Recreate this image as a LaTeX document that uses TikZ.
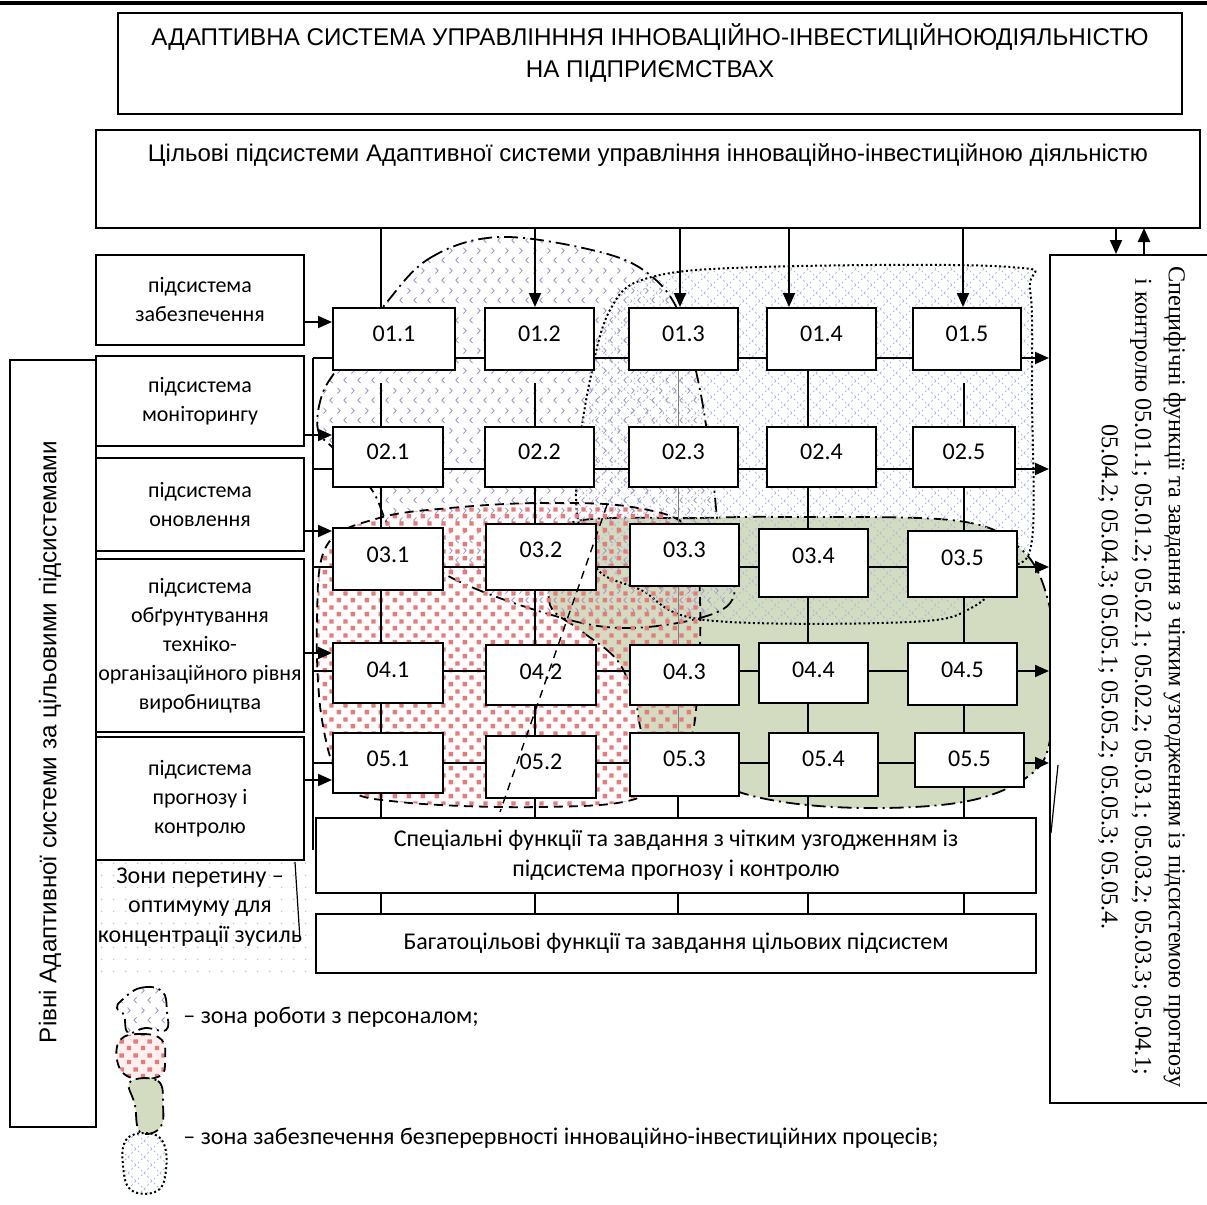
\documentclass[tikz,border=0pt]{standalone}
\usepackage{fontspec}
\setmainfont{Carlito}
\newfontfamily\arialf{Liberation Sans}
\newfontfamily\tnrf{Liberation Serif}
\usetikzlibrary{arrows.meta,patterns}
\definecolor{zgreen}{RGB}{211,220,192}
\definecolor{lavc}{RGB}{160,150,205}
\definecolor{hatchc}{RGB}{175,188,220}
\definecolor{redc}{RGB}{232,122,122}
\pgfdeclarepatternformonly{chev}{\pgfqpoint{0pt}{0pt}}{\pgfqpoint{7pt}{10pt}}{\pgfqpoint{7pt}{10pt}}{%
 \pgfsetlinewidth{0.45pt}%
 \pgfpathmoveto{\pgfqpoint{0.8pt}{9pt}}\pgfpathlineto{\pgfqpoint{2.2pt}{7.5pt}}\pgfpathlineto{\pgfqpoint{0.8pt}{6pt}}%
 \pgfpathmoveto{\pgfqpoint{5.6pt}{4pt}}\pgfpathlineto{\pgfqpoint{4.2pt}{2.5pt}}\pgfpathlineto{\pgfqpoint{5.6pt}{1pt}}%
 \pgfusepath{stroke}}
\pgfdeclarepatternformonly{redsq}{\pgfqpoint{0pt}{0pt}}{\pgfqpoint{7pt}{7pt}}{\pgfqpoint{7pt}{7pt}}{%
 \pgfpathrectangle{\pgfqpoint{0.4pt}{0.4pt}}{\pgfqpoint{2.3pt}{2.3pt}}%
 \pgfpathrectangle{\pgfqpoint{3.9pt}{3.9pt}}{\pgfqpoint{2.3pt}{2.3pt}}%
 \pgfusepath{fill}}
\pgfdeclarepatternformonly{bhatch}{\pgfqpoint{-0.5pt}{-0.5pt}}{\pgfqpoint{8.5pt}{8.5pt}}{\pgfqpoint{8pt}{8pt}}{%
 \pgfsetlinewidth{0.45pt}%
 \pgfpathmoveto{\pgfqpoint{0pt}{0pt}}\pgfpathlineto{\pgfqpoint{8pt}{8pt}}%
 \pgfpathmoveto{\pgfqpoint{0pt}{8pt}}\pgfpathlineto{\pgfqpoint{8pt}{0pt}}%
 \pgfusepath{stroke}}
\pgfdeclarepatternformonly{gdots}{\pgfqpoint{0pt}{0pt}}{\pgfqpoint{6pt}{6pt}}{\pgfqpoint{6pt}{6pt}}{%
 \pgfpathcircle{\pgfqpoint{3pt}{3pt}}{0.45pt}\pgfusepath{fill}}
\newcommand\gbox[7]{%
 \pgfmathsetmacro\gbw{(#4-#2)*0.5}%
 \pgfmathsetmacro\gbh{(#5-#3)*0.5}%
 \pgfmathsetmacro\gbx{(#2+#4)/2}%
 \pgfmathsetmacro\gby{(#3+#5)/2}%
 \node[bx, minimum width=\gbw pt, minimum height=\gbh pt] (#1) at (\gbx,\gby) {};
 \node[gl] (#1t) at (\gbx,#6) {#7};}
\begin{document}
\begin{tikzpicture}[x=0.5pt,y=-0.5pt,
 bx/.style={draw, line width=1pt, fill=white, inner sep=0pt},
 gl/.style={font=\fontsize{12}{14}\selectfont, inner sep=0pt},
 arr/.style={line width=1pt, -{Triangle[length=7pt,width=6pt]}},
 ln/.style={line width=1pt},
 sub/.style={bx, minimum width=104pt, align=center, font=\fontsize{11}{14.5}\selectfont},
 ddot/.style={line width=0.9pt, dash pattern=on 7pt off 2.5pt on 1pt off 2.5pt},
 dsh/.style={line width=0.9pt, dash pattern=on 4.5pt off 3pt},
 dtt/.style={line width=1pt, dash pattern=on 1pt off 1.3pt},
 txt/.style={font=\fontsize{12}{14.75}\selectfont, inner sep=0pt},
]
\useasboundingbox (0,0) rectangle (1207,1205);
\fill[white] (0,0) rectangle (1207,1205);
\draw[line width=2pt] (0,3) -- (1207,3);

% header boxes
\node[bx, minimum width=532pt, minimum height=50.5pt] (title) at (650,63.5) {};
\node[font=\arialf\fontsize{12.1}{16}\selectfont, align=center, inner sep=0pt] (titlet) at (650,53)
 {АДАПТИВНА СИСТЕМА УПРАВЛІНННЯ ІННОВАЦІЙНО-ІНВЕСТИЦІЙНОЮДІЯЛЬНІСТЮ\\НА ПІДПРИЄМСТВАХ};
\node[bx, minimum width=552pt, minimum height=49pt] (tgt) at (648,179) {};
\node[font=\arialf\fontsize{12}{14}\selectfont, inner sep=0pt] (tgtt) at (648,155)
 {Цільові підсистеми Адаптивної системи управління інноваційно-інвестиційною діяльністю};

% zones
\draw[ddot, fill=zgreen] plot[smooth cycle, tension=0.6] coordinates {(573,522) (700,518) (788,517) (959,521) (1022,550) (1048,600) (1053,660) (1050,740) (1030,775) (973,800) (885,808) (790,803) (720,785) (650,745) (635,700) (617,660) (580,630) (550,605) (555,560)};
\draw[dtt, pattern=bhatch, pattern color=hatchc] plot[smooth cycle, tension=0.6] coordinates {(648,278) (760,267) (1010,267) (1030,290) (1032,400) (1032,540) (1010,570) (973,607) (910,622) (705,620) (641,590) (598,570) (578,520) (578,460) (590,380) (610,310)};
\draw[ddot, pattern=chev, pattern color=lavc] plot[smooth cycle, tension=0.6] coordinates {(383,307) (430,258) (500,237) (600,252) (650,275) (680,315) (700,390) (712,470) (720,540) (734,595) (700,618) (620,628) (545,613) (452,578) (395,535) (372,490) (335,450) (318,430) (322,395) (340,365)};
\draw[dsh, pattern=redsq, pattern color=redc] plot[smooth cycle, tension=0.6] coordinates {(379,518) (450,508) (540,503) (632,507) (690,530) (700,600) (697,700) (685,750) (641,797) (540,807) (400,802) (345,785) (322,720) (317,620) (327,545)};

% left boxes
\node[bx, minimum width=43pt, minimum height=383.5pt] (lev) at (53,743.5) {};
\node[rotate=90, font=\arialf\fontsize{12.1}{14}\selectfont, inner sep=0pt] (levt) at (50,742)
 {Рівні Адаптивної системи за цільовими підсистемами};
\node[sub, minimum height=45pt] (s1) at (200,300) {підсистема\\забезпечення};
\node[sub, minimum height=45pt] (s2) at (200,401) {підсистема\\моніторингу};
\node[sub, minimum height=46.5pt] (s3) at (200,504.5) {підсистема\\оновлення};
\node[sub, minimum height=86.5pt] (s4) at (200,645.5) {підсистема\\обґрунтування\\техніко-\\організаційного рівня\\виробництва};
\node[sub, minimum height=61.5pt] (s5) at (200,798.5) {підсистема\\прогнозу і\\контролю};

% zones of intersection note
\fill[pattern=gdots, pattern color=gray!45] (98,862) rectangle (315,972);
\node[txt, align=center] (zn) at (200,907) {Зони перетину –\\оптимуму для\\концентрації зусиль};
\draw[line width=0.6pt] (295,862) -- (300,940);

% right box
\node[bx, minimum width=82.5pt, minimum height=424pt] (rbox) at (1132.5,679) {};
\node[rotate=-90, align=center, font=\tnrf\fontsize{12.1}{16.75}\selectfont, inner sep=0pt] (rboxt) at (1142,677)
 {Специфічні функції та завдання з чітким узгодженням із підсистемою прогнозу\\
  і контролю 05.01.1; 05.01.2; 05.02.1; 05.02.2; 05.03.1; 05.03.2; 05.03.3; 05.04.1;\\
  05.04.2; 05.04.3; 05.05.1; 05.05.2; 05.05.3; 05.05.4.};
\draw[line width=0.6pt] (1058,765) -- (1051,833);

% grid lines
\coordinate (bus1) at (313,358);
\coordinate (bus5) at (313,850);
\draw[ln] (bus1) -- (bus5);
\foreach \i/\y in {1/358,2/469,3/567,4/671,5/763}{
 \coordinate (r\i) at (313,\y);
 \draw[arr] (r\i) -- (r\i -| rbox.west);
}
\draw[ln] (381,383) -- (381,914);
\draw[ln] (535,383) -- (535,914);
\draw[line width=0.5pt, gray] (678,370) -- (678,796);
\draw[ln] (678,796) -- (678,914);
\draw[ln] (808,370) -- (808,914);
\draw[ln] (964,383) -- (964,914);

% grid boxes
\gbox{b11}{333}{308}{455}{370}{334}{01.1}
\gbox{b12}{485}{308}{594}{370}{334}{01.2}
\gbox{b13}{629}{308}{738}{370}{334}{01.3}
\gbox{b14}{767}{308}{876}{370}{334}{01.4}
\gbox{b15}{913}{308}{1021}{370}{334}{01.5}
\gbox{b21}{333}{427}{443}{487}{452}{02.1}
\gbox{b22}{485}{427}{594}{487}{452}{02.2}
\gbox{b23}{629}{427}{738}{487}{452}{02.3}
\gbox{b24}{767}{427}{876}{487}{452}{02.4}
\gbox{b25}{913}{427}{1015}{487}{452}{02.5}
\gbox{b31}{333}{528}{443}{590}{555}{03.1}
\gbox{b32}{486}{524}{596}{590}{550}{03.2}
\gbox{b33}{630}{524}{739}{586}{550}{03.3}
\gbox{b34}{759}{529}{868}{597}{556}{03.4}
\gbox{b35}{908}{531}{1017}{597}{558}{03.5}
\gbox{b41}{333}{643}{443}{703}{670}{04.1}
\gbox{b42}{486}{645}{596}{705}{672}{04.2}
\gbox{b43}{630}{645}{739}{705}{672}{04.3}
\gbox{b44}{759}{643}{868}{703}{670}{04.4}
\gbox{b45}{908}{643}{1017}{705}{670}{04.5}
\gbox{b51}{333}{733}{443}{793}{759}{05.1}
\gbox{b52}{486}{736}{596}{798}{762}{05.2}
\gbox{b53}{630}{733}{739}{796}{759}{05.3}
\gbox{b54}{769}{733}{878}{796}{759}{05.4}
\gbox{b55}{915}{733}{1024}{787}{759}{05.5}

% top connectors
\coordinate (t1) at (381,228);
\coordinate (t2) at (535,228);
\coordinate (t3) at (680,228);
\coordinate (t4) at (789,228);
\coordinate (t5) at (963,228);
\draw[ln] (t1) -- (t1 |- b11.north);
\draw[arr] (t2) -- (t2 |- b12.north);
\draw[arr] (t3) -- (t3 |- b13.north);
\draw[arr] (t4) -- (t4 |- b14.north);
\draw[arr] (t5) -- (t5 |- b15.north);
\coordinate (d1) at (1116,228);
\coordinate (u1) at (1144,228);
\draw[arr] (d1) -- (d1 |- rbox.north);
\draw[arr] (u1 |- rbox.north) -- (u1);

% inputs from subsystems
\coordinate (i1) at (304,322);
\coordinate (i2) at (304,435);
\coordinate (i3) at (304,531);
\coordinate (i4) at (304,653);
\coordinate (i5) at (304,780);
\draw[arr] (i1) -- (i1 -| b11.west);
\draw[arr] (i2) -- (i2 -| b21.west);
\draw[arr] (i3) -- (i3 -| b31.west);
\draw[arr] (i4) -- (i4 -| b41.west);
\draw[arr] (i5) -- (i5 -| b51.west);

% bottom boxes
\node[bx, minimum width=360pt, minimum height=37.5pt, align=center, font=\fontsize{12}{15}\selectfont] (spec) at (676,855.5)
 {Спеціальні функції та завдання з чітким узгодженням із\\підсистема прогнозу і контролю};
\node[bx, minimum width=360pt, minimum height=29.5pt, font=\fontsize{12}{14}\selectfont] (multi) at (676,943.5)
 {Багатоцільові функції та завдання цільових підсистем};

% straight dashed line
\draw[line width=0.7pt, dash pattern=on 4pt off 3pt] (607,505) -- (500,812);

% legend
\draw[ddot, pattern=chev, pattern color=lavc] plot[smooth cycle, tension=0.7] coordinates {(122,1000) (140,988) (162,991) (167,1012) (166,1030) (145,1028) (128,1033) (124,1015) (117,1008)};
\fill[red!6] plot[smooth cycle, tension=0.7] coordinates {(120,1040) (142,1034) (162,1040) (165,1060) (160,1076) (132,1078) (118,1064)};
\draw[dsh, pattern=redsq, pattern color=redc] plot[smooth cycle, tension=0.7] coordinates {(120,1040) (142,1034) (162,1040) (165,1060) (160,1076) (132,1078) (118,1064)};
\draw[ddot, fill=zgreen] plot[smooth cycle, tension=0.7] coordinates {(130,1082) (158,1081) (163,1105) (160,1128) (140,1132) (135,1105)};
\draw[dtt, pattern=bhatch, pattern color=hatchc] plot[smooth cycle, tension=0.7] coordinates {(126,1140) (146,1133) (163,1142) (166,1170) (157,1191) (131,1190) (123,1165)};
\node[txt, anchor=west] (leg1) at (183,1017) {– зона роботи з персоналом;};
\node[txt, anchor=west] (leg2) at (183,1138) {– зона забезпечення безперервності інноваційно-інвестиційних процесів;};
\end{tikzpicture}
\end{document}
